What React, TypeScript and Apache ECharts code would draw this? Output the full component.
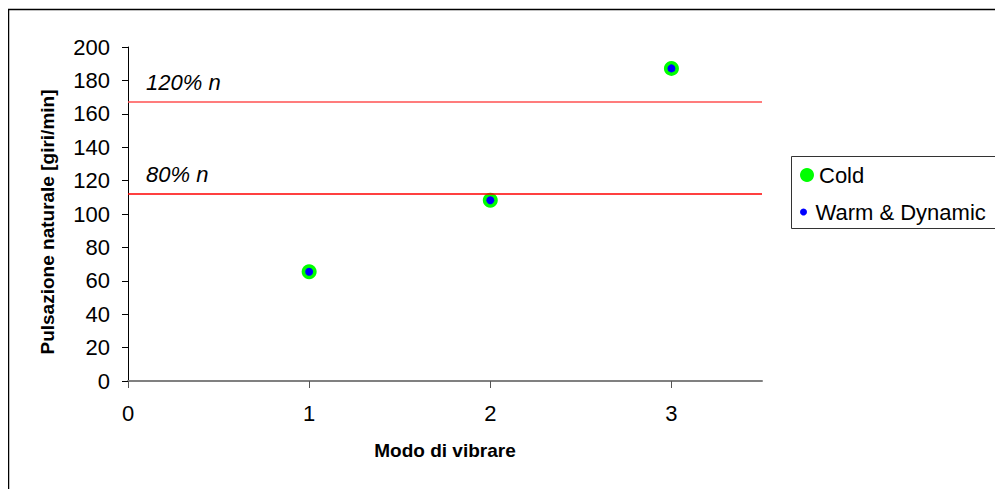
import React, { useEffect, useRef } from "react";
import * as echarts from "echarts";

const modes = [1, 2, 3];
const coldValues = [65.4, 108.2, 187.2];
const warmValues = [65.4, 108.2, 187.2];
const limitValues = [167.3, 112.4];
const limitLabels = ["120% n", "80% n"];
const xTickValues = [0, 1, 2, 3];
const seriesNames = ["Cold", "Warm & Dynamic"];
const xTitle = "Modo di vibrare";
const yTitle = "Pulsazione naturale [giri/min]";

const FONT = "'Liberation Sans', Arial, sans-serif";

export default function App() {
  const ref = useRef<HTMLDivElement>(null);
  useEffect(() => {
    if (!ref.current) return;
    const chart = echarts.init(ref.current, undefined, { renderer: "svg" });
    const cold = modes.map((m, i) => [m, coldValues[i]]);
    const warm = modes.map((m, i) => [m, warmValues[i]]);
    chart.setOption({
      animation: false,
      backgroundColor: "#ffffff",
      textStyle: { fontFamily: FONT },
      grid: { left: 120, top: 39, right: 249, bottom: 116, containLabel: false, outerBoundsMode: "none" },
      legend: [
        {
          data: [seriesNames[0]],
          left: 792,
          top: 156,
          padding: 0,
          itemWidth: 14,
          itemHeight: 14,
          textStyle: { fontSize: 22, color: "#000", fontFamily: FONT },
        },
        {
          data: [seriesNames[1]],
          left: 792,
          top: 193,
          padding: 0,
          itemWidth: 14,
          itemHeight: 7,
          textStyle: { fontSize: 22, color: "#000", fontFamily: FONT },
        },
      ],
      xAxis: {
        type: "value",
        min: 0,
        max: 3.5,
        interval: 1,
        name: xTitle,
        nameLocation: "middle",
        nameGap: 60,
        nameTextStyle: { fontSize: 19, fontWeight: "bold", color: "#000", fontFamily: FONT },
        axisLine: { show: true, onZero: false, lineStyle: { color: "#808080", width: 2 } },
        axisTick: { show: true, length: 7, customValues: xTickValues, lineStyle: { color: "#555" } },
        axisLabel: { fontSize: 22, color: "#000", margin: 21, customValues: xTickValues, fontFamily: FONT },
        splitLine: { show: false },
      },
      yAxis: {
        type: "value",
        min: 0,
        max: 200,
        interval: 20,
        name: yTitle,
        nameLocation: "middle",
        nameGap: 71,
        nameRotate: 90,
        nameTextStyle: { fontSize: 19, fontWeight: "bold", color: "#000", fontFamily: FONT, padding: [0, 16, 0, 0] },
        axisLine: { show: true, lineStyle: { color: "#000", width: 1 } },
        axisTick: { show: true, length: 6, lineStyle: { color: "#000" } },
        axisLabel: { fontSize: 22, color: "#000", margin: 18, fontFamily: FONT },
        splitLine: { show: false },
      },
      graphic: [
        {
          type: "rect",
          shape: { x: 0.5, y: 1.5, width: 1100, height: 600 },
          style: { fill: "none", stroke: "#000", lineWidth: 1.5 },
          silent: true,
        },
        {
          type: "rect",
          shape: { x: 783.5, y: 148.5, width: 207, height: 72 },
          style: { fill: "none", stroke: "#333", lineWidth: 1 },
          silent: true,
        },
      ],
      series: [
        {
          name: seriesNames[0],
          type: "scatter",
          data: cold,
          symbol: "circle",
          symbolSize: 15,
          itemStyle: { color: "#00ff00", opacity: 1 },
          z: 2,
          markLine: {
            silent: true,
            symbol: ["none", "none"],
            data: limitValues.map((v, i) => ({
              yAxis: v,
              lineStyle: { color: i === 0 ? "#ff5050" : "#ff0000", width: 1.5, type: "solid" },
              label: {
                show: true,
                formatter: limitLabels[i],
                position: "insideStartTop",
                distance: [18, 8],
                fontSize: 22,
                fontStyle: "italic",
                color: "#000",
                fontFamily: FONT,
              },
            })),
          },
        },
        {
          name: seriesNames[1],
          type: "scatter",
          data: warm,
          symbol: "circle",
          symbolSize: 8,
          itemStyle: { color: "#0000ff", opacity: 1 },
          z: 3,
        },
      ],
    });
    return () => chart.dispose();
  }, []);
  return <div ref={ref} style={{ width: 1003, height: 489 }} />;
}
